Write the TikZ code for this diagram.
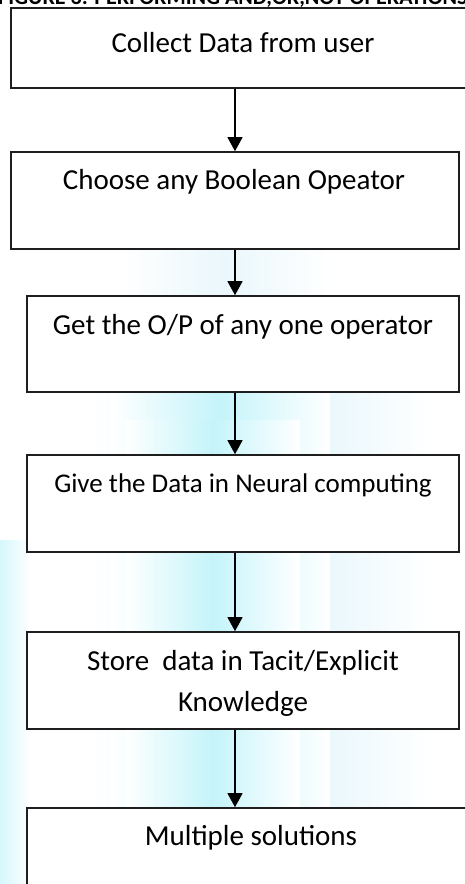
\documentclass[tikz,border=0pt]{standalone}
\usepackage{fontspec}
\setmainfont{Carlito}
\usetikzlibrary{arrows.meta}
\definecolor{wmark}{RGB}{196,244,250}
\definecolor{wmarkB}{RGB}{220,242,250}
\definecolor{edge}{RGB}{30,30,30}
\tikzset{
  stepbox/.style={draw=edge, line width=1.6pt, fill=white, rectangle, inner sep=0pt},
  steptext/.style={font=\fontsize{29}{34}\selectfont, align=center, inner sep=0pt},
  flow/.style={draw=black, line width=1.2pt, -{Triangle[length=14pt,width=15pt]}}
}
\begin{document}
\begin{tikzpicture}[x=1pt,y=-1pt]
\useasboundingbox (0,0) rectangle (465,884);
\begin{scope}
\clip (0,0) rectangle (465,884);
% faint watermark behind the chart
\shade[left color=white, right color=white, middle color=wmarkB!60] (120,250) rectangle (330,300);
\shade[left color=white, right color=white, middle color=wmarkB] (90,300) rectangle (430,884);
\shade[left color=white, right color=white, middle color=wmark] (110,330) rectangle (330,884);
\shade[left color=white, right color=white, middle color=wmark] (125,420) rectangle (300,884);
\shade[left color=wmark!70, right color=white] (0,540) rectangle (30,884);
% heading line, mostly cut off at the top edge
\node[font=\bfseries\fontsize{22}{26}\selectfont, anchor=base west, inner sep=0pt] (head) at (-2,4) {FIGURE 3: PERFORMING AND,OR,NOT OPERATIONS};
% boxes
\node[stepbox, minimum width=470pt, minimum height=80pt] (b1) at (246,48) {};
\node[stepbox, minimum width=448pt, minimum height=97pt] (b2) at (235,200.5) {};
\node[stepbox, minimum width=432pt, minimum height=96pt] (b3) at (243,344) {};
\node[stepbox, minimum width=432pt, minimum height=97pt] (b4) at (243,503.5) {};
\node[stepbox, minimum width=432pt, minimum height=97pt] (b5) at (243,680.5) {};
\node[stepbox, minimum width=450pt, minimum height=100pt] (b6) at (252,858) {};
% step labels
\node[steptext] (t1) at (243,43) {Collect Data from user};
\node[steptext] (t2) at (234,182) {Choose any Boolean Opeator};
\node[steptext] (t3) at (243,327) {Get the O/P of any one operator};
\node[steptext, font=\fontsize{27}{32}\selectfont] (t4) at (243,485) {Give the Data in Neural computing};
\node[steptext, font=\fontsize{29}{41}\selectfont] (t5) at (243,683) {Store\ \ data in Tacit/Explicit\\Knowledge};
\node[steptext] (t6) at (251,838) {Multiple solutions};
% connectors
\coordinate (x1) at (235,0);
\draw[flow] (b1.south -| x1) -- (b2.north -| x1);
\draw[flow] (b2.south -| x1) -- (b3.north -| x1);
\draw[flow] (b3.south -| x1) -- (b4.north -| x1);
\draw[flow] (b4.south -| x1) -- (b5.north -| x1);
\draw[flow] (b5.south -| x1) -- (b6.north -| x1);
\end{scope}
\end{tikzpicture}
\end{document}
